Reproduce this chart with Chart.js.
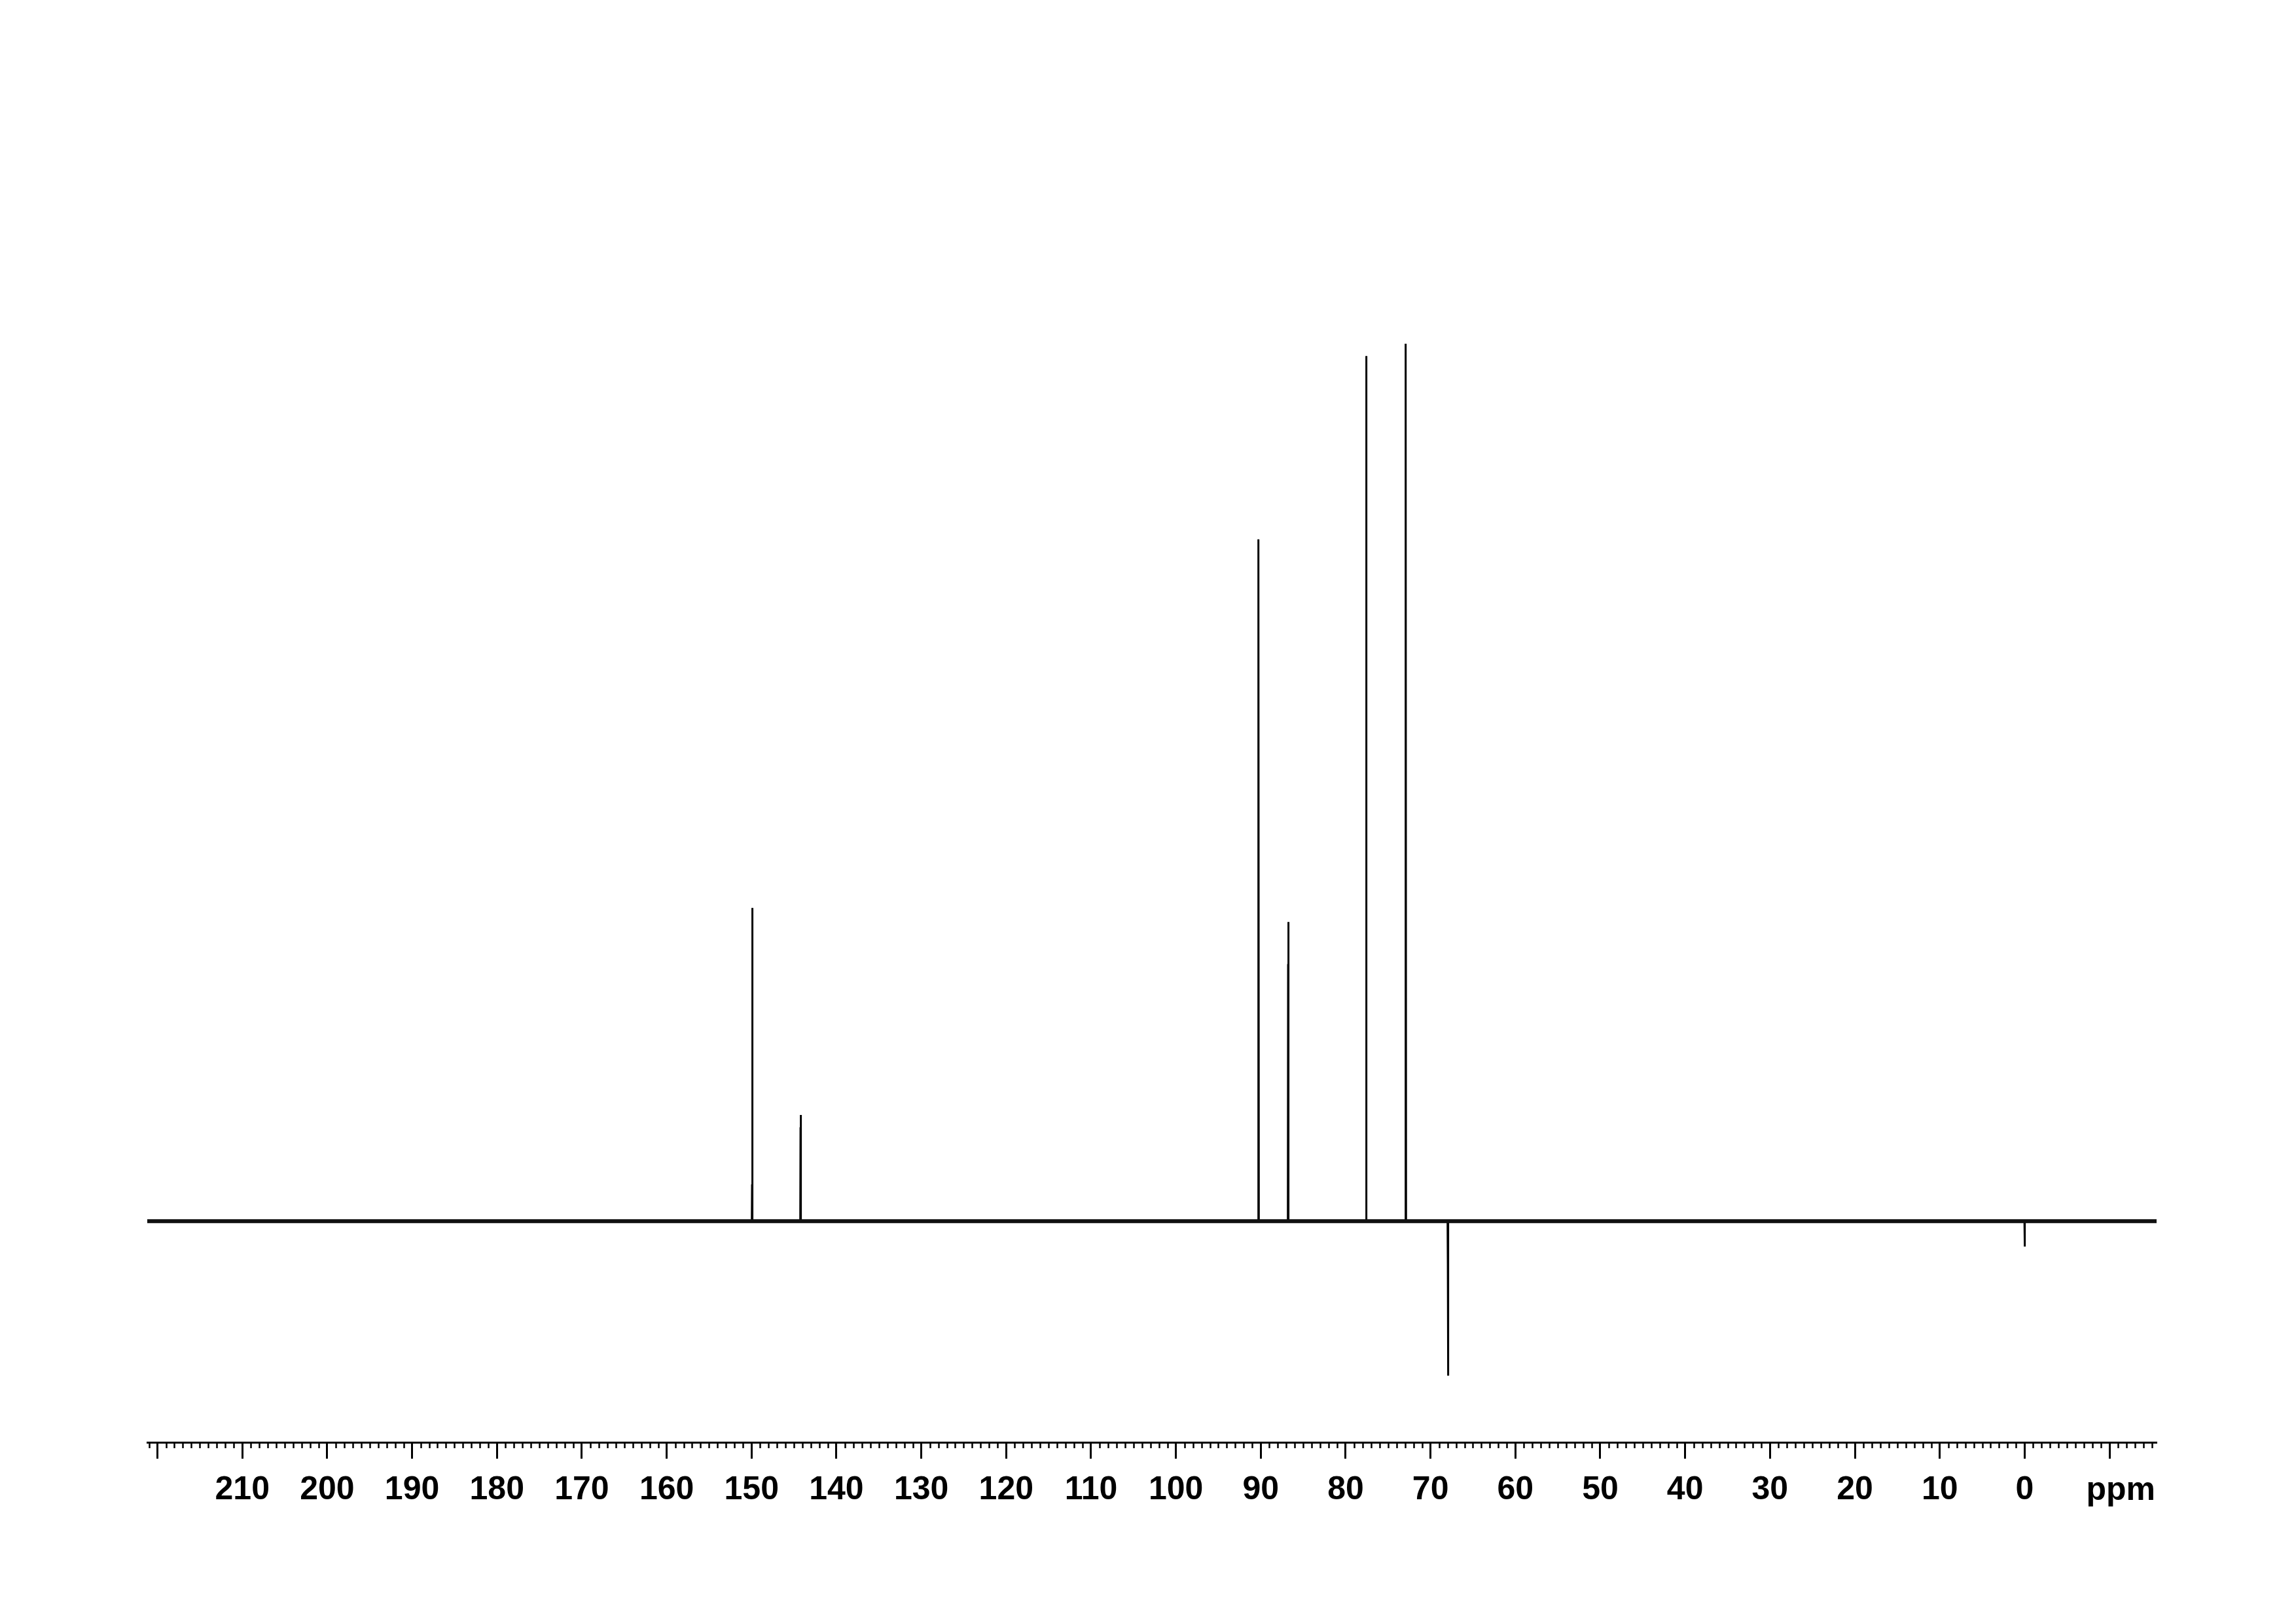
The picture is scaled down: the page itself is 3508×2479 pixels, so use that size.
<!DOCTYPE html>
<html>
<head>
<meta charset="utf-8">
<script src="https://cdn.jsdelivr.net/npm/chart.js@4.4.1/dist/chart.umd.min.js"></script>
<style>
  body { margin: 0; background: #fff; }
  canvas { display: block; }
</style>
</head>
<body>
<canvas id="nmrChart" width="3508" height="2479"></canvas>
<script>
// peaks (ppm, height in % of tallest line)
const peakPpm      = [149.92, 144.21, 90.27, 86.76, 77.58, 72.92, 67.94, 0.00];
const peakHeight   = [35.7,   12.1,   77.7,  34.1,  98.6,  100.0, -17.6, -2.9];
const shoulderHeight = [4.2,  10.7,   63.9,  29.3,  0,     81.2,  -4.9,  0];

// axis
const ppmMin = -15.55;
const ppmMax = 221.2;
const labelledTicks = [210, 200, 190, 180, 170, 160, 150, 140, 130, 120, 110, 100, 90, 80, 70, 60, 50, 40, 30, 20, 10, 0];
const majorStep = 10;
const minorStep = 1;
const axisUnit = "ppm";

const labelFont = 'bold 50px "Liberation Sans", Arial, Helvetica, sans-serif';

// baseline runs across the whole window
const baseline = [
  { x: ppmMax, y: 0 },
  { x: ppmMin, y: 0 }
];

// each line: up from base, shoulder, top, back to base, then a gap
const peakPoints = [];
for (let i = 0; i < peakPpm.length; i++) {
  const p = peakPpm[i];
  peakPoints.push({ x: p + 0.05, y: 0 });
  peakPoints.push({ x: p + 0.02, y: shoulderHeight[i] });
  peakPoints.push({ x: p, y: peakHeight[i] });
  peakPoints.push({ x: p - 0.04, y: 0 });
  peakPoints.push({ x: p - 0.05, y: null });
}

// minor ticks + unit label
const axisExtras = {
  id: "axisExtras",
  afterDraw(chart) {
    const ctx = chart.ctx;
    const xs = chart.scales.x;
    const y0 = chart.chartArea.bottom;
    ctx.save();
    ctx.strokeStyle = "#000";
    ctx.lineWidth = 2.5;
    ctx.beginPath();
    for (let v = Math.ceil(ppmMin); v <= Math.floor(ppmMax); v += minorStep) {
      if (v % majorStep === 0) continue;
      const px = Math.round(xs.getPixelForValue(v)) + 0.5;
      ctx.moveTo(px, y0);
      ctx.lineTo(px, y0 + 9);
    }
    ctx.stroke();

    ctx.fillStyle = "#000";
    ctx.font = labelFont;
    ctx.textAlign = "right";
    ctx.textBaseline = "alphabetic";
    ctx.fillText(axisUnit, xs.right - 2, 2291);
    ctx.restore();
  }
};

const nmr_chart = new Chart("nmrChart", {
  type: "line",
  data: {
    datasets: [
      {
        label: "baseline",
        data: baseline,
        borderColor: "#111",
        borderWidth: 6,
        pointRadius: 0,
        tension: 0
      },
      {
        label: "spectrum",
        data: peakPoints,
        borderColor: "#000",
        borderWidth: 3,
        pointRadius: 0,
        tension: 0,
        spanGaps: false
      }
    ]
  },
  options: {
    responsive: false,
    devicePixelRatio: 1,
    animation: false,
    events: [],
    layout: {
      padding: { left: 225, right: 213, top: 100, bottom: 155 }
    },
    plugins: {
      legend: { display: false },
      tooltip: { enabled: false }
    },
    scales: {
      x: {
        type: "linear",
        reverse: true,
        min: ppmMin,
        max: ppmMax,
        border: { display: true, color: "#000", width: 3 },
        grid: {
          display: true,
          drawOnChartArea: false,
          drawTicks: true,
          tickLength: 25,
          tickWidth: 3,
          tickColor: "#000"
        },
        ticks: {
          stepSize: majorStep,
          includeBounds: false,
          autoSkip: false,
          maxRotation: 0,
          padding: 18,
          color: "#000",
          font: { family: '"Liberation Sans", Arial, Helvetica, sans-serif', size: 50, weight: "bold" },
          callback: function (value) {
            return labelledTicks.includes(value) ? String(value) : "";
          }
        }
      },
      y: {
        display: false,
        min: -25.2,
        max: 131.7
      }
    }
  },
  plugins: [axisExtras]
});
</script>
</body>
</html>
